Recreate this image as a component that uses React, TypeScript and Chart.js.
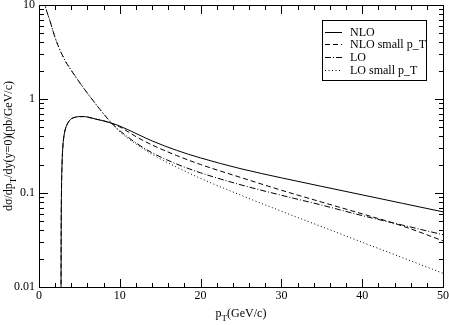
import React, { useEffect, useRef } from "react";
import { Chart, registerables } from "chart.js";

Chart.register(...registerables);

// ---- data (pT in GeV/c, dσ/dpT/dy in pb/GeV/c) ----
const nloPt = [2.72, 2.74, 2.78, 2.85, 2.95, 3.1, 3.3, 3.6, 4, 4.5, 5, 5.5, 6, 7, 8, 9, 10, 12, 14, 17, 20, 25, 30, 35, 40, 45, 50];
const nloVal = [0.004, 0.03, 0.1, 0.2, 0.31, 0.41, 0.49, 0.56, 0.615, 0.64, 0.65, 0.65, 0.643, 0.612, 0.585, 0.553, 0.515, 0.43, 0.358, 0.285, 0.236, 0.181, 0.145, 0.1175, 0.0955, 0.0776, 0.063];

const nloSmallPt = [2.72, 2.74, 2.78, 2.85, 2.95, 3.1, 3.3, 3.6, 4, 4.5, 5, 5.5, 6, 7, 8, 9, 10, 12, 14, 17, 20, 25, 30, 35, 40, 45, 50];
const nloSmallVal = [0.004, 0.03, 0.1, 0.2, 0.31, 0.41, 0.49, 0.56, 0.615, 0.64, 0.65, 0.65, 0.643, 0.612, 0.585, 0.55, 0.505, 0.398, 0.324, 0.251, 0.201, 0.146, 0.107, 0.08, 0.06, 0.0445, 0.031];

const loPt = [0.6, 0.74, 1.36, 1.98, 2.6, 3.22, 3.84, 4.46, 5.07, 5.69, 6.31, 6.93, 7.55, 8.17, 8.79, 9.4, 10, 12, 14, 17, 20, 25, 30, 35, 40, 45, 50];
const loVal = [11.5, 10, 6.76, 4.52, 3.31, 2.57, 2.11, 1.76, 1.48, 1.25, 1.06, 0.906, 0.773, 0.667, 0.577, 0.51, 0.46, 0.341, 0.268, 0.204, 0.164, 0.122, 0.0946, 0.0743, 0.0575, 0.0455, 0.036];

const loSmallPt = [0.6, 0.74, 1.36, 1.98, 2.6, 3.22, 3.84, 4.46, 5.07, 5.69, 6.31, 6.93, 7.55, 8.17, 8.79, 9.4, 10, 12, 14, 17, 20, 25, 30, 35, 40, 45, 50];
const loSmallVal = [11.5, 10, 6.76, 4.52, 3.31, 2.57, 2.11, 1.76, 1.48, 1.25, 1.06, 0.906, 0.773, 0.667, 0.577, 0.505, 0.448, 0.332, 0.258, 0.189, 0.143, 0.0946, 0.064, 0.0438, 0.0299, 0.0205, 0.014];

const seriesLabels = ["NLO", "NLO small p_T", "LO", "LO small p_T"];
const xTickLabels = [0, 10, 20, 30, 40, 50];
const yTickLabels = [0.01, 0.1, 1, 10];
const xMinorStep = 2;
const yMinorMultipliers = [1, 2, 3, 4, 5, 6, 7, 8, 9, 10];

const FONT = "'Liberation Serif', 'Times New Roman', serif";
const dashes: number[][] = [[], [5, 3], [6, 2, 1, 2], [1, 2.5]];

function drawSub(ctx: CanvasRenderingContext2D, parts: [string, boolean][], size: number) {
  const subSize = Math.round(size * 0.72);
  let total = 0;
  const widths = parts.map(([t, sub]) => {
    ctx.font = `${sub ? subSize : size}px ${FONT}`;
    const w = ctx.measureText(t).width;
    total += w;
    return w;
  });
  let x = -total / 2;
  parts.forEach(([t, sub], i) => {
    ctx.font = `${sub ? subSize : size}px ${FONT}`;
    ctx.fillText(t, x, sub ? size * 0.3 : 0);
    x += widths[i];
  });
}

function drawTicks(chart: any) {
  const ctx: CanvasRenderingContext2D = chart.ctx;
  const ca = chart.chartArea;
  const L = Math.round(ca.left);
  const R = Math.round(ca.right);
  const T = Math.round(ca.top);
  const B = Math.round(ca.bottom);
  const xs = chart.scales.x;
  const ys = chart.scales.y;
  ctx.save();
  ctx.globalAlpha = 1;
  ctx.globalCompositeOperation = "source-over";
  ctx.setLineDash([]);
  ctx.strokeStyle = "#000";
  ctx.lineWidth = 1;
  ctx.beginPath();
  const xMin = xTickLabels[0];
  const xMax = xTickLabels[xTickLabels.length - 1];
  for (let v = xMin; v <= xMax; v += xMinorStep) {
    const px = Math.round(xs.getPixelForValue(v)) + 0.5;
    const len = xTickLabels.includes(v) ? 8 : 4;
    ctx.moveTo(px, B);
    ctx.lineTo(px, B - len);
    ctx.moveTo(px, T + 1);
    ctx.lineTo(px, T + 1 + len);
  }
  for (let k = 0; k < yTickLabels.length - 1; k++) {
    const base = yTickLabels[k];
    for (const m of yMinorMultipliers) {
      const py = Math.round(ys.getPixelForValue(base * m)) + 0.5;
      const len = m === 1 || m === 10 ? 8 : 4;
      ctx.moveTo(L + 1, py);
      ctx.lineTo(L + 1 + len, py);
      ctx.moveTo(R, py);
      ctx.lineTo(R - len, py);
    }
  }
  ctx.stroke();
  ctx.fillStyle = "#000";
  ctx.fillRect(L, T, R - L + 1, 1);
  ctx.fillRect(L, B, R - L + 1, 1);
  ctx.fillRect(L, T, 1, B - T + 1);
  ctx.fillRect(R, T, 1, B - T + 1);
  ctx.restore();
}

const framePlugin = {
  id: "frame",
  afterDatasetsDraw(chart: any) {
    drawTicks(chart);
  },
  afterDraw(chart: any) {
    const ctx: CanvasRenderingContext2D = chart.ctx;
    const ca = chart.chartArea;
    const L = Math.round(ca.left);
    const R = Math.round(ca.right);
    const T = Math.round(ca.top);
    const B = Math.round(ca.bottom);
    ctx.save();
    ctx.fillStyle = "#000";
    ctx.textBaseline = "alphabetic";
    ctx.textAlign = "left";
    ctx.save();
    ctx.translate((L + R) / 2, 317);
    drawSub(ctx, [["p", false], ["T", true], ["(GeV/c)", false]], 12);
    ctx.restore();
    ctx.save();
    ctx.translate(12, (T + B) / 2);
    ctx.rotate(-Math.PI / 2);
    drawSub(ctx, [["dσ/dp", false], ["T", true], ["/dy(y=0)(pb/GeV/c)", false]], 12);
    ctx.restore();

    const bx = R - 121;
    const by = T + 15;
    const bw = 104;
    const bh = 60;
    ctx.fillStyle = "#fff";
    ctx.fillRect(bx, by, bw, bh);
    ctx.strokeStyle = "#000";
    ctx.lineWidth = 1;
    ctx.strokeRect(bx + 0.5, by + 0.5, bw, bh);
    chart.data.datasets.forEach((ds: any, i: number) => {
      const cy = Math.round(by + 11.5 + i * 12.8) + 0.5;
      ctx.beginPath();
      ctx.setLineDash(ds.borderDash || []);
      ctx.moveTo(bx + 3, cy);
      ctx.lineTo(bx + 20, cy);
      ctx.stroke();
      ctx.setLineDash([]);
      ctx.fillStyle = "#000";
      ctx.font = `12px ${FONT}`;
      ctx.textBaseline = "middle";
      ctx.textAlign = "left";
      ctx.fillText(ds.label, bx + 28, cy);
    });
    ctx.restore();
    drawTicks(chart);
  },
};

export default function App() {
  const ref = useRef<HTMLCanvasElement>(null);
  useEffect(() => {
    if (!ref.current) return;
    const pts = (xs: number[], ys: number[]) => xs.map((x, i) => ({ x, y: ys[i] }));
    const sets = [
      pts(nloPt, nloVal),
      pts(nloSmallPt, nloSmallVal),
      pts(loPt, loVal),
      pts(loSmallPt, loSmallVal),
    ];
    const chart = new Chart(ref.current, {
      type: "line",
      data: {
        datasets: sets.map((d, i) => ({
          label: seriesLabels[i],
          data: d,
          borderColor: "#000",
          borderWidth: 1,
          borderDash: dashes[i],
          pointRadius: 0,
          fill: false,
          cubicInterpolationMode: "monotone",
        })),
      },
      options: {
        animation: false,
        responsive: false,
        maintainAspectRatio: false,
        layout: { padding: { top: 5, right: 6, left: 0, bottom: 0 } },
        plugins: { legend: { display: false }, tooltip: { enabled: false } },
        scales: {
          x: {
            type: "linear",
            min: 0,
            max: 50,
            grid: { display: false, drawTicks: false },
            border: { display: false },
            afterBuildTicks: (s: any) => {
              s.ticks = xTickLabels.map((v) => ({ value: v }));
            },
            afterFit: (s: any) => {
              s.height = 38;
              s.paddingLeft = 0;
              s.paddingRight = 0;
            },
            ticks: {
              color: "#000",
              font: { family: FONT, size: 12 },
              padding: 2,
              maxRotation: 0,
              autoSkip: false,
            },
          },
          y: {
            type: "logarithmic",
            min: 0.01,
            max: 10,
            grid: { display: false, drawTicks: false },
            border: { display: false },
            afterBuildTicks: (s: any) => {
              s.ticks = yTickLabels.map((v) => ({ value: v }));
            },
            afterFit: (s: any) => {
              s.width = 39;
              s.paddingTop = 0;
              s.paddingBottom = 0;
            },
            ticks: {
              color: "#000",
              font: { family: FONT, size: 12 },
              padding: 4,
              autoSkip: false,
              callback: (v: any) => String(v),
            },
          },
        },
      },
      plugins: [framePlugin],
    } as any);
    return () => chart.destroy();
  }, []);
  return (
    <div style={{ position: "absolute", left: 0, top: 0, width: 449, height: 325, background: "#fff" }}>
      <canvas ref={ref} width={449} height={325} style={{ display: "block" }} />
    </div>
  );
}
